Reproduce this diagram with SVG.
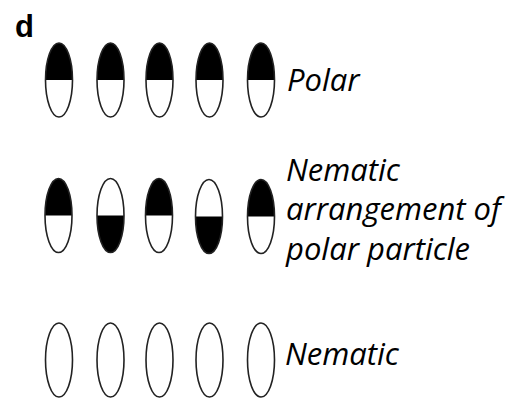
<svg xmlns="http://www.w3.org/2000/svg" xmlns:xlink="http://www.w3.org/1999/xlink" width="517" height="401" viewBox="0 0 517 401">
<style>
.lbl{font-family:"Open Sans","Noto Sans",sans-serif;font-style:italic;font-size:31px;fill:#000}
.ttl{font-family:"Liberation Sans",Arial,sans-serif;font-weight:bold;font-size:31px;fill:#000}
.ol{fill:none;stroke:#222;stroke-width:1.6}
</style>
<defs>
<g id="p">
<ellipse cx="0" cy="0" rx="13.5" ry="37" fill="#fff"/>
<path d="M-13.5,0 A13.5,37 0 0 1 13.5,0 Z" fill="#000"/>
<ellipse class="ol" cx="0" cy="0" rx="13.5" ry="37"/>
</g>
<g id="e">
<ellipse class="ol" cx="0" cy="0" rx="13.5" ry="37"/>
</g>
</defs>
<rect width="517" height="401" fill="#fff"/>
<text class="ttl" x="15" y="37">d</text>
<g id="row-polar">
<use xlink:href="#p" href="#p" transform="translate(59,80)"/>
<use xlink:href="#p" href="#p" transform="translate(110.5,80)"/>
<use xlink:href="#p" href="#p" transform="translate(159.5,80)"/>
<use xlink:href="#p" href="#p" transform="translate(209.5,80)"/>
<use xlink:href="#p" href="#p" transform="translate(261,80)"/>
<text class="lbl" x="287" y="91">Polar</text>
</g>
<g id="row-nematic-polar">
<use xlink:href="#p" href="#p" transform="translate(58.5,215.5)"/>
<use xlink:href="#p" href="#p" transform="translate(110.5,215.5) scale(1,-1)"/>
<use xlink:href="#p" href="#p" transform="translate(159,215.5)"/>
<use xlink:href="#p" href="#p" transform="translate(209,216.5) scale(1,-1)"/>
<use xlink:href="#p" href="#p" transform="translate(261,216.5)"/>
<text class="lbl" x="286" y="181">Nematic</text>
<text class="lbl" x="286" y="220">arrangement of</text>
<text class="lbl" x="286" y="260">polar particle</text>
</g>
<g id="row-nematic">
<use xlink:href="#e" href="#e" transform="translate(59,360)"/>
<use xlink:href="#e" href="#e" transform="translate(110.5,360)"/>
<use xlink:href="#e" href="#e" transform="translate(159.5,360)"/>
<use xlink:href="#e" href="#e" transform="translate(209.5,360)"/>
<use xlink:href="#e" href="#e" transform="translate(261,360)"/>
<text class="lbl" x="285" y="365">Nematic</text>
</g>
</svg>
